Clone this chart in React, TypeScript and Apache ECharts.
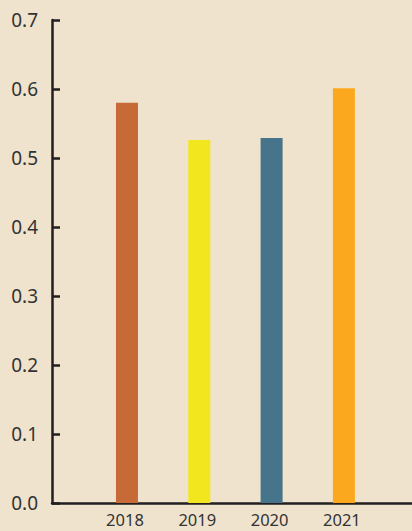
import React, { useEffect, useRef } from "react";
import * as echarts from "echarts";

const years = [2018, 2019, 2020, 2021];
const values = [0.58, 0.526, 0.529, 0.601];
const barColors = ["#c66b38", "#f2e71f", "#46748b", "#fba81e"];

export default function App() {
  const ref = useRef<HTMLDivElement>(null);
  useEffect(() => {
    if (!ref.current) return;
    const chart = echarts.init(ref.current, null, { renderer: "svg" });
    const axisColor = "#231f20";
    chart.setOption({
      animation: false,
      backgroundColor: "#efe3cd",
      grid: { left: 52, right: 0, top: 20, bottom: 28 },
      xAxis: {
        type: "value",
        min: 2016.963,
        max: 2021.942,
        splitLine: { show: false },
        axisLine: { show: true, lineStyle: { color: axisColor, width: 2.5 } },
        axisTick: { show: false },
        axisLabel: {
          customValues: years,
          formatter: (v: number) => String(v),
          color: "#333333",
          fontSize: 16.5,
          fontFamily: "Noto Sans",
          margin: 8,
          padding: [0, 4, 0, 0],
        },
      },
      yAxis: {
        type: "value",
        min: 0,
        max: 0.7,
        interval: 0.1,
        splitLine: { show: false },
        axisLine: { show: true, lineStyle: { color: axisColor, width: 2.5 } },
        axisTick: { show: true, inside: true, length: 8, lineStyle: { color: axisColor, width: 2.5 } },
        axisLabel: {
          color: "#333333",
          fontSize: 19,
          fontFamily: "Noto Sans",
          margin: 14,
          formatter: (v: number) => v.toFixed(1),
        },
      },
      series: [
        {
          type: "bar",
          barWidth: 22,
          data: years.map((y, i) => ({
            value: [y, values[i]],
            itemStyle: { color: barColors[i] },
          })),
        },
      ],
    });
    return () => chart.dispose();
  }, []);
  return (
    <div
      ref={ref}
      style={{ position: "fixed", left: 0, top: 0, width: 412, height: 531 }}
    />
  );
}
